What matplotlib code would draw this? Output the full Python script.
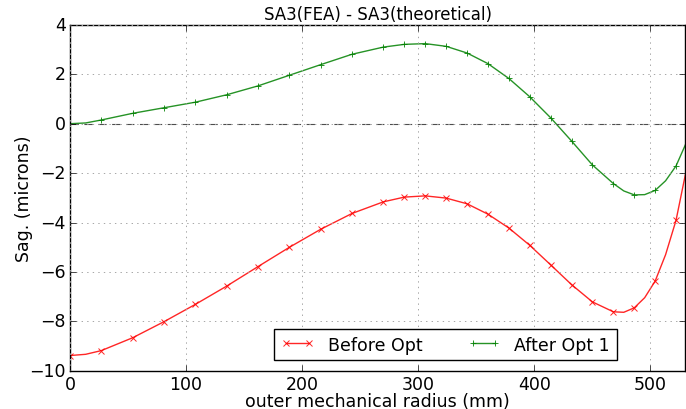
import matplotlib
matplotlib.use('Agg')
import matplotlib.pyplot as plt
import numpy as np

# radius (mm)
radius = [0, 13.5, 27, 54, 81, 108, 135, 162, 189, 216, 243, 270, 288, 306, 324,
          342, 360, 378, 396, 414, 432, 450, 468, 477, 486, 495, 504, 513, 522, 530]

# sag difference (microns)
before_opt = [-9.38, -9.33, -9.18, -8.66, -8.01, -7.31, -6.57, -5.78, -5.00, -4.27,
              -3.63, -3.16, -2.97, -2.92, -3.01, -3.24, -3.66, -4.22, -4.92, -5.71,
              -6.51, -7.21, -7.61, -7.63, -7.45, -7.04, -6.37, -5.30, -3.91, -2.07]
after_opt1 = [0.00, 0.03, 0.15, 0.42, 0.645, 0.87, 1.17, 1.53, 1.96, 2.39,
              2.81, 3.10, 3.21, 3.24, 3.13, 2.86, 2.43, 1.83, 1.09, 0.24,
              -0.70, -1.67, -2.42, -2.72, -2.88, -2.87, -2.70, -2.31, -1.71, -0.86]

marks = [0] + list(range(2, 23)) + [24, 26, 28]

plt.style.use('classic')
fig = plt.figure(figsize=(6.86, 4.10), dpi=100)
ax = fig.add_axes([0.102, 0.093, 0.897, 0.844])

ax.plot(radius, before_opt, 'r-x', lw=1, ms=4, mew=0.7, alpha=0.85,
        markevery=marks, label='Before Opt')
ax.plot(radius, after_opt1, 'g-+', lw=1, ms=4, mew=0.7, alpha=0.85,
        markevery=marks, label='After Opt 1')
ax.axhline(0, color='0.3', linestyle=(0, (6, 4)), lw=0.8)

ax.set_xlim(0, 530)
ax.set_ylim(-10, 4)
ax.set_xticks([0, 100, 200, 300, 400, 500])
ax.set_yticks([4, 2, 0, -2, -4, -6, -8, -10])
ax.grid(True, color='0.65', linestyle=':', lw=0.7)
ax.tick_params(labelsize=12.5, pad=3)

ax.set_title('SA3(FEA) - SA3(theoretical)', fontsize=12, pad=4)
ax.set_xlabel('outer mechanical radius (mm)', fontsize=12.5, labelpad=-1)
ax.set_ylabel('Sag. (microns)', fontsize=12.5, labelpad=-3)

ax.legend(loc='lower center', bbox_to_anchor=(0.61, 0.015), ncol=2, fontsize=12.5,
          numpoints=2, borderaxespad=0.3, columnspacing=2.6, handlelength=1.9)

fig.savefig('out.png', dpi=100)
